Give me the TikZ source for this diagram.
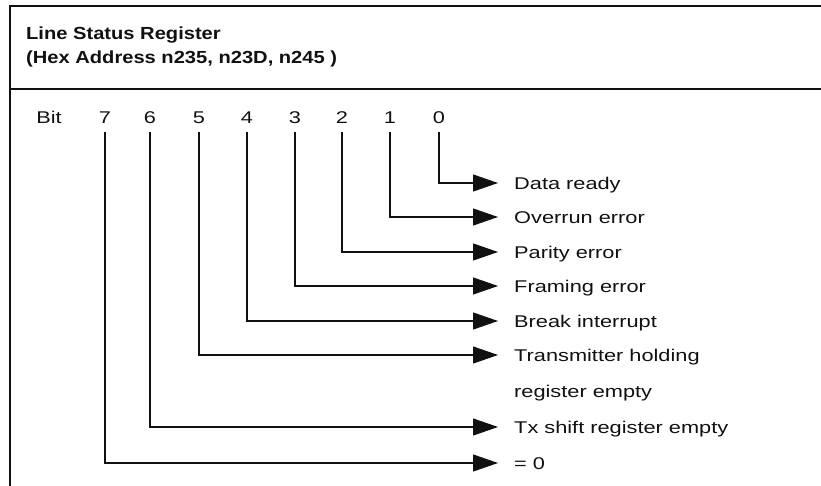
\documentclass[tikz,border=0pt]{standalone}
\usepackage{fontspec}
\setmainfont{Liberation Sans}[FakeStretch=1.28, BoldFeatures={FakeStretch=1.15}]
\usetikzlibrary{arrows.meta, positioning}
\definecolor{ink}{HTML}{111111}

\begin{document}
\begin{tikzpicture}[x=1pt, y=-1pt,
    bitnum/.style={anchor=base, inner xsep=0pt, inner ysep=8.5pt, font=\fontsize{17}{20}\selectfont, text=ink},
    lbl/.style={anchor=west, inner xsep=16pt, inner ysep=0pt, text height=12.3pt, text depth=0pt, font=\fontsize{17}{20}\selectfont, text=ink},
    conn/.style={draw=ink, line width=1.1pt, -{Triangle[length=25pt, width=17pt]}}]
  \useasboundingbox (0,0) rectangle (821,486);
  % Frame
  \draw[ink, line width=1.6pt] (821,6) -- (10,6) -- (10,486);
  \draw[ink, line width=1.2pt] (10,89) -- (821,89);

  % Title
  \node[anchor=base west, inner sep=0pt, font=\fontsize{17.5}{20}\selectfont\bfseries, text=ink] (title) at (26,39.5) {Line Status Register};
  \node[anchor=base west, inner sep=0pt, font=\fontsize{17.5}{20}\selectfont\bfseries, text=ink] (addr) at (26,63.5) {(Hex Address n235, n23D, n245 )};

  % Bit row
  \node[bitnum] (bit) at (49,123.5) {Bit};
  \foreach \b/\x in {7/105,6/150,5/199,4/247,3/295,2/342,1/390,0/439}
    \node[bitnum] (b\b) at (\x,123.5) {\b};

  % Meanings
  \foreach \b/\y/\txt in {0/183/Data ready, 1/217/Overrun error, 2/252/Parity error, 3/286/Framing error,
      4/321/Break interrupt, 5/355/Transmitter holding, 6/427/Tx shift register empty, 7/463/= 0}
    \node[lbl] (l\b) at (498,\y) {\txt};
  \node[lbl, below right=23.7pt and 0pt of l5.south west] (l5b) {register empty};

  \foreach \b in {0,...,7}
    \draw[conn] (b\b.south) |- (l\b.west);
\end{tikzpicture}
\end{document}
